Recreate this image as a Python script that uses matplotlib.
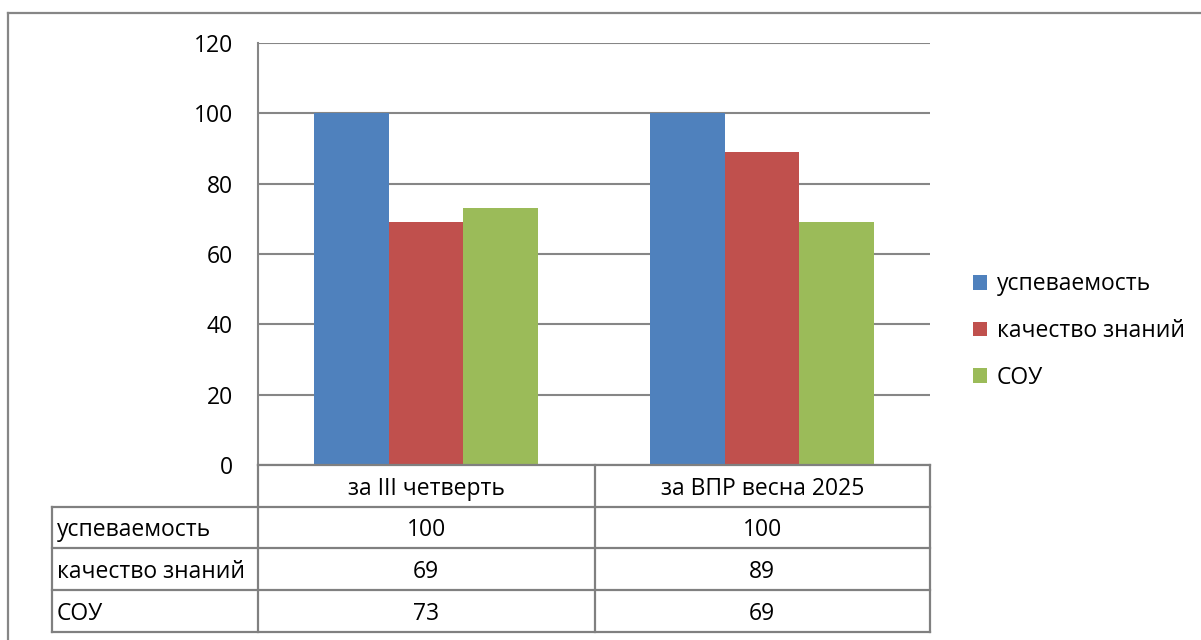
import matplotlib
matplotlib.use("Agg")
import matplotlib.pyplot as plt
from matplotlib.lines import Line2D
from matplotlib.patches import Patch
import numpy as np

plt.rcParams['font.family'] = ['Open Sans', 'DejaVu Sans']

categories = ["за III четверть", "за ВПР весна 2025"]
series_names = ["успеваемость", "качество знаний", "СОУ"]
uspevaemost = [100, 100]
kachestvo = [69, 89]
sou = [73, 69]
series_values = [uspevaemost, kachestvo, sou]
colors = ["#4F81BD", "#C0504D", "#9BBB59"]
yticks = [0, 20, 40, 60, 80, 100, 120]

W, H = 1201, 640
fig = plt.figure(figsize=(W / 100, H / 100), dpi=100)

def fx(px):
    return px / W

def fy(py):
    return 1 - py / H

ax_l, ax_r, ax_t, ax_b = 258, 930, 43, 465
ax = fig.add_axes([fx(ax_l), fy(ax_b), fx(ax_r - ax_l), (ax_b - ax_t) / H])

grid_c = "#868686"
n = len(series_names)
bw = 2 / 9
x = np.arange(len(categories))
for i, (name, vals) in enumerate(zip(series_names, series_values)):
    ax.bar(x + (i - (n - 1) / 2) * bw, vals, width=bw, color=colors[i], label=name, zorder=3)

ax.set_xlim(-0.5, len(categories) - 0.5)
ax.set_ylim(0, 120)
ax.set_yticks(yticks)
ax.set_yticklabels([str(t) for t in yticks], fontsize=16.5)
ax.set_xticks([])
ax.tick_params(axis='y', length=0, pad=18)
ax.yaxis.grid(True, color=grid_c, linewidth=1.5, zorder=0)
ax.set_axisbelow(True)
for s in ["top", "right", "bottom"]:
    ax.spines[s].set_visible(False)
ax.spines["left"].set_color(grid_c)
ax.spines["left"].set_linewidth(1.5)

# Data table
tab_c = "#808080"
lw = 1.6
tab_left = 52
col_x = [ax_l, (ax_l + ax_r) / 2 + 0.5, ax_r]
row_y = [465, 507, 548, 590, 632]

def hline(y, x0, x1):
    fig.add_artist(Line2D([fx(x0), fx(x1)], [fy(y), fy(y)], color=tab_c, linewidth=lw))

def vline(xp, y0, y1):
    fig.add_artist(Line2D([fx(xp), fx(xp)], [fy(y0), fy(y1)], color=tab_c, linewidth=lw))

hline(row_y[0], ax_l, ax_r)
for y in row_y[1:]:
    hline(y, tab_left, ax_r)
for xp in col_x:
    vline(xp, row_y[0], row_y[-1])
vline(tab_left, row_y[1], row_y[-1])

fs = 16.5
for j, cat in enumerate(categories):
    cx = (col_x[j] + col_x[j + 1]) / 2
    fig.text(fx(cx), fy((row_y[0] + row_y[1]) / 2 + 3), cat, ha='center', va='center', fontsize=fs)
for i, name in enumerate(series_names):
    cy = (row_y[i + 1] + row_y[i + 2]) / 2 + 3
    fig.text(fx(tab_left + 5), fy(cy), name, ha='left', va='center', fontsize=fs)
    for j in range(len(categories)):
        cx = (col_x[j] + col_x[j + 1]) / 2
        fig.text(fx(cx), fy(cy), str(series_values[i][j]), ha='center', va='center', fontsize=fs)

# Legend
handles = [Patch(facecolor=c, edgecolor='none') for c in colors]
fig.legend(handles, series_names, loc='center left', bbox_to_anchor=(fx(964), fy(331)),
           frameon=False, fontsize=fs, handlelength=0.62, handleheight=0.62,
           handletextpad=0.4, labelspacing=0.99, borderaxespad=0)

# Outer chart border (top and left visible)
fig.add_artist(Line2D([fx(8), fx(W + 5)], [fy(13), fy(13)], color="#868686", linewidth=1.6))
fig.add_artist(Line2D([fx(8), fx(8)], [fy(13), fy(H + 5)], color="#868686", linewidth=1.6))

fig.savefig("out.png", dpi=100)
